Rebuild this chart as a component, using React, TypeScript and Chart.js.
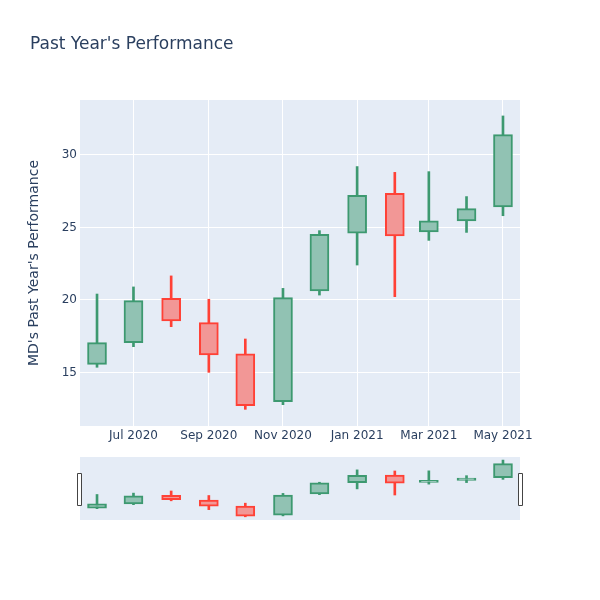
import React, { useEffect, useRef } from "react";
import { Chart, registerables } from "chart.js";

Chart.register(...registerables);

const dates = ["2020-06-01", "2020-07-01", "2020-08-01", "2020-09-01", "2020-10-01", "2020-11-01", "2020-12-01", "2021-01-01", "2021-02-01", "2021-03-01", "2021-04-01", "2021-05-01"];
const opens = [15.56, 17.06, 20.11, 18.44, 16.28, 12.99, 20.62, 24.6, 27.36, 24.69, 25.45, 26.41];
const highs = [20.41, 20.9, 21.66, 20.05, 17.31, 20.8, 24.78, 29.2, 28.8, 28.85, 27.13, 32.69];
const lows = [15.36, 16.78, 18.16, 15.01, 12.46, 12.78, 20.34, 22.41, 20.23, 24.11, 24.66, 25.81];
const closes = [17.06, 19.95, 18.55, 16.21, 12.71, 20.16, 24.53, 27.22, 24.41, 25.45, 26.3, 31.4];
const xTickDates = ["2020-07-01", "2020-09-01", "2020-11-01", "2021-01-01", "2021-03-01", "2021-05-01"];
const xTickLabels = ["Jul 2020", "Sep 2020", "Nov 2020", "Jan 2021", "Mar 2021", "May 2021"];
const yTicks = [15, 20, 25, 30];

const X_MIN_DATE = "2020-05-18";
const X_MAX_DATE = "2021-05-15";
const Y_MIN = 11.31;
const Y_MAX = 33.79;
const UP = "#3D9970";
const DOWN = "#FF4136";
const UP_FILL = "#91C2B3";
const DOWN_FILL = "#F29796";
const BG = "#E5ECF6";
const FONT = "'DejaVu Sans', Verdana, Arial, sans-serif";
const TEXT = "#2a3f5f";

const DAY = 86400000;
const ORIGIN = Date.parse("2020-06-01T00:00:00Z");
const toDay = (d: string) => (Date.parse(d + "T00:00:00Z") - ORIGIN) / DAY;
const xs = dates.map(toDay);
const xTickValues = xTickDates.map(toDay);

const isUp = (i: number) => closes[i] >= opens[i];
const colorFor = (i: number) => (isUp(i) ? UP : DOWN);
const fillFor = (i: number) => (isUp(i) ? UP_FILL : DOWN_FILL);

function buildDatasets(lineW: number) {
  return [
    {
      label: "wick",
      data: xs.map((x, i) => ({ x, y: [lows[i], highs[i]] })),
      backgroundColor: xs.map((_, i) => colorFor(i)),
      borderWidth: 0,
      barThickness: lineW,
      grouped: false,
      order: 2,
    },
    {
      label: "body",
      data: xs.map((x, i) => ({ x, y: [opens[i], closes[i]] })),
      backgroundColor: xs.map((_, i) => fillFor(i)),
      borderColor: xs.map((_, i) => colorFor(i)),
      borderWidth: lineW,
      borderSkipped: false,
      barThickness: 19,
      grouped: false,
      order: 1,
    },
  ];
}

const bgPlugin = {
  id: "plotBg",
  beforeDraw(chart: any) {
    const { ctx, chartArea } = chart;
    ctx.save();
    ctx.fillStyle = BG;
    ctx.fillRect(chartArea.left, chartArea.top, chartArea.right - chartArea.left, chartArea.bottom - chartArea.top);
    ctx.restore();
  },
};

const handlePlugin = {
  id: "handles",
  afterDraw(chart: any) {
    const { ctx, chartArea } = chart;
    ctx.save();
    ctx.fillStyle = "#ffffff";
    ctx.strokeStyle = "#444444";
    ctx.lineWidth = 1;
    const top = chartArea.top + 16.5;
    const h = 32;
    [chartArea.left - 2.5, chartArea.right - 1.5].forEach((x) => {
      ctx.beginPath();
      ctx.rect(Math.round(x) - 0.5, top, 4, h);
      ctx.fill();
      ctx.stroke();
    });
    ctx.restore();
  },
};

export default function App() {
  const mainRef = useRef<HTMLCanvasElement>(null);
  const sliderRef = useRef<HTMLCanvasElement>(null);

  useEffect(() => {
    const xMin = toDay(X_MIN_DATE);
    const xMax = toDay(X_MAX_DATE);
    const main = new Chart(mainRef.current!, {
      type: "bar",
      data: { datasets: buildDatasets(2) as any },
      plugins: [bgPlugin],
      options: {
        animation: false,
        responsive: false,
        layout: { padding: { left: 30, right: 80, top: 0, bottom: 0 } },
        plugins: {
          legend: { display: false },
          tooltip: { enabled: false },
          title: {
            display: true,
            text: "Past Year's Performance",
            align: "start",
            color: TEXT,
            font: { family: FONT, size: 17, weight: "normal" },
            padding: { top: 34, bottom: 45.6 },
          },
        },
        scales: {
          x: {
            type: "linear",
            min: xMin,
            max: xMax,
            offset: false,
            border: { display: false },
            grid: { offset: false, drawTicks: false, color: "#ffffff", lineWidth: 1 },
            afterBuildTicks: (s: any) => {
              s.ticks = xTickValues.map((v) => ({ value: v }));
            },
            ticks: {
              autoSkip: false,
              maxRotation: 0,
              padding: 3,
              color: TEXT,
              font: { family: FONT, size: 12 },
              callback: (v: any) => {
                const k = xTickValues.indexOf(v);
                return k >= 0 ? xTickLabels[k] : "";
              },
            },
            afterFit: (s: any) => {
              s.height = 24;
            },
          },
          y: {
            min: Y_MIN,
            max: Y_MAX,
            border: { display: false },
            grid: { drawTicks: false, color: "#ffffff", lineWidth: 1 },
            afterBuildTicks: (s: any) => {
              s.ticks = yTicks.map((v) => ({ value: v }));
            },
            ticks: {
              padding: 3,
              color: TEXT,
              font: { family: FONT, size: 12 },
            },
            title: {
              display: true,
              text: "MD's Past Year's Performance",
              color: TEXT,
              font: { family: FONT, size: 14 },
              padding: { top: -4, bottom: 0 },
            },
            afterFit: (s: any) => {
              s.width = 50;
            },
          },
        },
      } as any,
    });

    const slider = new Chart(sliderRef.current!, {
      type: "bar",
      data: { datasets: buildDatasets(2) as any },
      plugins: [bgPlugin, handlePlugin],
      options: {
        animation: false,
        responsive: false,
        layout: { padding: { left: 80, right: 80, top: 7, bottom: 80 } },
        plugins: { legend: { display: false }, tooltip: { enabled: false } },
        scales: {
          x: { type: "linear", min: xMin, max: xMax, offset: false, display: false },
          y: { min: Y_MIN, max: Y_MAX, display: false },
        },
      } as any,
    });

    return () => {
      main.destroy();
      slider.destroy();
    };
  }, []);

  return (
    <div style={{ position: "absolute", left: 0, top: 0, width: 600, height: 600, background: "#fff" }}>
      <canvas ref={mainRef} width={600} height={450} style={{ position: "absolute", left: 0, top: 0 }} />
      <canvas ref={sliderRef} width={600} height={150} style={{ position: "absolute", left: 0, top: 450 }} />
    </div>
  );
}
